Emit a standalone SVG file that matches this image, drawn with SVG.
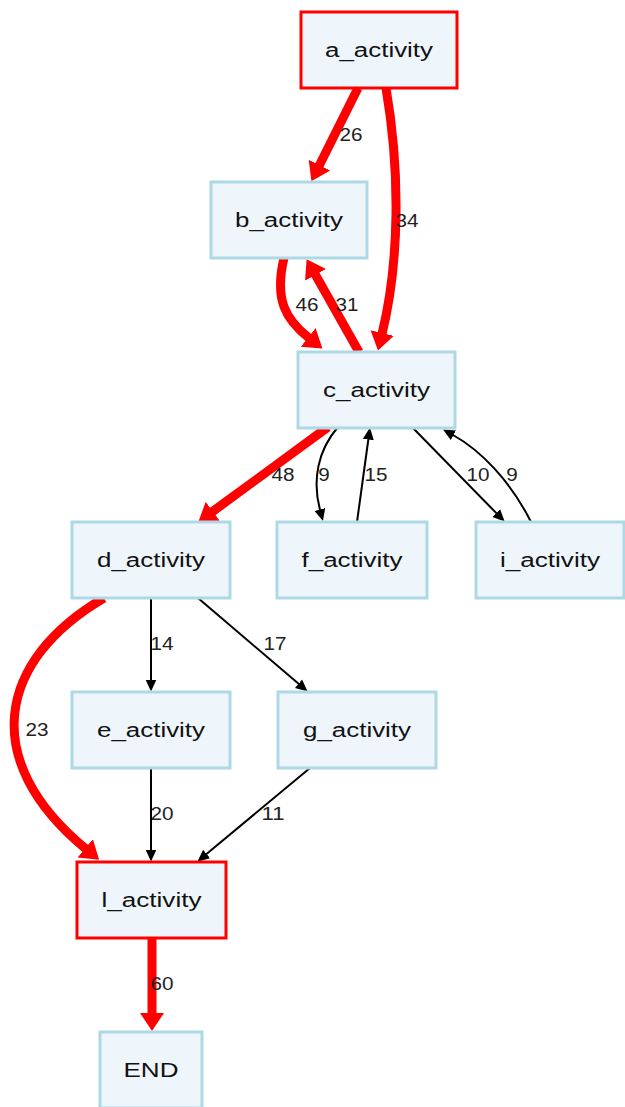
<svg xmlns="http://www.w3.org/2000/svg" width="625" height="1107" viewBox="0 0 625 1107">
<style>
.node rect{fill:#eef6fc;stroke:#add8e6;stroke-width:3}
.node.hot rect{stroke:#ff0000}
.node text{font-family:"Liberation Sans",Arial,sans-serif;font-size:20px;fill:#111;text-anchor:middle}
.e{fill:none;stroke:#000;stroke-width:2;marker-end:url(#ab)}
.e.r{stroke:#ff0000;stroke-width:9;marker-end:url(#ar)}
.lbl{font-family:"Liberation Sans",Arial,sans-serif;font-size:18px;fill:#222;text-anchor:middle}
</style>
<defs>
<marker id="ar" markerUnits="userSpaceOnUse" viewBox="0 0 20 26" markerWidth="20" markerHeight="26" refX="1" refY="13" orient="auto"><path d="M0,1 L18,13 L0,25 z" fill="#ff0000"/></marker>
<marker id="ab" markerUnits="userSpaceOnUse" viewBox="0 0 12 12" markerWidth="12" markerHeight="12" refX="0.5" refY="6" orient="auto"><path d="M0,0.5 L12,6 L0,11.5 z" fill="#000"/></marker>
</defs>
<rect width="625" height="1107" fill="#fff"/>
<g id="connectors">
<path class="e r" d="M358,88 L319,166"/>
<path class="e r" d="M386,88 C400,170 400,260 382,334"/>
<path class="e r" d="M284,258 C274,300 286,320 309,338"/>
<path class="e r" d="M359,352 L315,274"/>
<path class="e r" d="M328,427 L212,512"/>
<path class="e" d="M338,427 C318,450 312,480 320,510"/>
<path class="e" d="M357,522 L368.4,439"/>
<path class="e" d="M412,427 L496.6,513.4"/>
<path class="e" d="M531,522 C510,480 480,450 453,435"/>
<path class="e" d="M151,598 L151,680"/>
<path class="e" d="M198,598 L298.9,684.1"/>
<path class="e r" d="M104,598 C-2,660 -22,760 86,849"/>
<path class="e" d="M151,768 L151,850"/>
<path class="e" d="M310,768 L206.2,854.3"/>
<path class="e r" d="M152,938 L152,1014"/>
<text class="lbl" x="351" y="141" textLength="23" lengthAdjust="spacingAndGlyphs">26</text>
<text class="lbl" x="407" y="227" textLength="23" lengthAdjust="spacingAndGlyphs">34</text>
<text class="lbl" x="307" y="311" textLength="23" lengthAdjust="spacingAndGlyphs">46</text>
<text class="lbl" x="347" y="311" textLength="23" lengthAdjust="spacingAndGlyphs">31</text>
<text class="lbl" x="283" y="481" textLength="23" lengthAdjust="spacingAndGlyphs">48</text>
<text class="lbl" x="324" y="481" textLength="11.5" lengthAdjust="spacingAndGlyphs">9</text>
<text class="lbl" x="376" y="481" textLength="23" lengthAdjust="spacingAndGlyphs">15</text>
<text class="lbl" x="478" y="481" textLength="23" lengthAdjust="spacingAndGlyphs">10</text>
<text class="lbl" x="512" y="481" textLength="11.5" lengthAdjust="spacingAndGlyphs">9</text>
<text class="lbl" x="162" y="650" textLength="23" lengthAdjust="spacingAndGlyphs">14</text>
<text class="lbl" x="275" y="650" textLength="23" lengthAdjust="spacingAndGlyphs">17</text>
<text class="lbl" x="37" y="736" textLength="23" lengthAdjust="spacingAndGlyphs">23</text>
<text class="lbl" x="162" y="820" textLength="23" lengthAdjust="spacingAndGlyphs">20</text>
<text class="lbl" x="273" y="820" textLength="23" lengthAdjust="spacingAndGlyphs">11</text>
<text class="lbl" x="162" y="990" textLength="23" lengthAdjust="spacingAndGlyphs">60</text>
</g>
<g id="a_activity" class="node hot"><rect x="301" y="12" width="156" height="76"/><text x="379" y="57" textLength="108" lengthAdjust="spacingAndGlyphs">a_activity</text></g>
<g id="b_activity" class="node"><rect x="211" y="182" width="156" height="76"/><text x="289" y="227" textLength="108" lengthAdjust="spacingAndGlyphs">b_activity</text></g>
<g id="c_activity" class="node"><rect x="298" y="352" width="157" height="76"/><text x="376.5" y="397" textLength="107" lengthAdjust="spacingAndGlyphs">c_activity</text></g>
<g id="d_activity" class="node"><rect x="72" y="522" width="158" height="76"/><text x="151" y="567" textLength="108" lengthAdjust="spacingAndGlyphs">d_activity</text></g>
<g id="f_activity" class="node"><rect x="277" y="522" width="150" height="76"/><text x="352" y="567" textLength="101" lengthAdjust="spacingAndGlyphs">f_activity</text></g>
<g id="i_activity" class="node"><rect x="476" y="522" width="148" height="76"/><text x="550" y="567" textLength="100" lengthAdjust="spacingAndGlyphs">i_activity</text></g>
<g id="e_activity" class="node"><rect x="72" y="692" width="158" height="76"/><text x="151" y="737" textLength="108" lengthAdjust="spacingAndGlyphs">e_activity</text></g>
<g id="g_activity" class="node"><rect x="278" y="692" width="158" height="76"/><text x="357" y="737" textLength="108" lengthAdjust="spacingAndGlyphs">g_activity</text></g>
<g id="l_activity" class="node hot"><rect x="77" y="862" width="149" height="76"/><text x="151.5" y="907" textLength="100" lengthAdjust="spacingAndGlyphs">l_activity</text></g>
<g id="END" class="node"><rect x="100" y="1032" width="102" height="76"/><text x="151" y="1077" textLength="55" lengthAdjust="spacingAndGlyphs">END</text></g>
</svg>
